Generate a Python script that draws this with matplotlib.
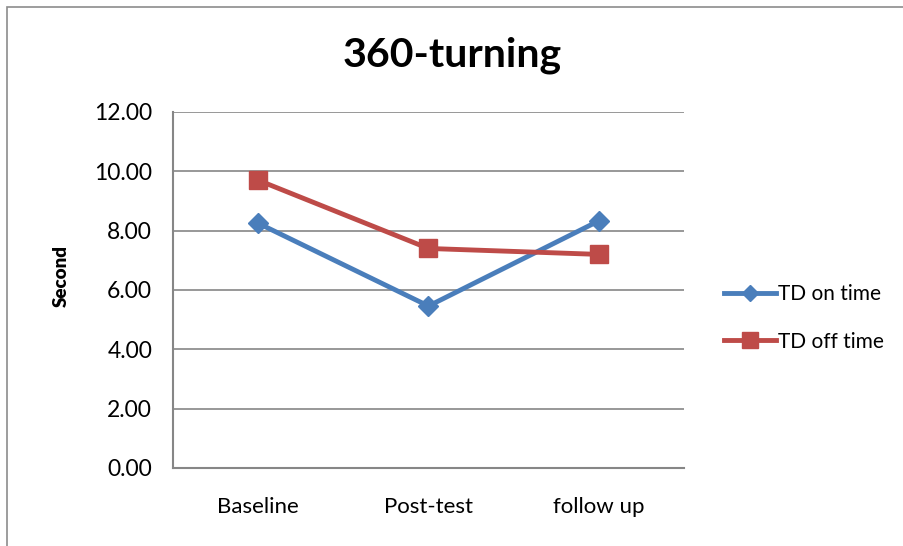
import matplotlib.pyplot as plt
from matplotlib.patches import Rectangle

plt.rcParams['font.family'] = ['Lato', 'DejaVu Sans']

# 数据
phases = ['Baseline', 'Post-test', 'follow up']
td_on = [8.25, 5.46, 8.33]
td_off = [9.70, 7.40, 7.20]
yticks = [0, 2, 4, 6, 8, 10, 12]

fig = plt.figure(figsize=(9.04, 5.46), dpi=100)
# 外框
fig.patches.append(Rectangle((7 / 904, -0.01), 1.0, 1 - 7 / 546 + 0.01,
                             transform=fig.transFigure, fill=False,
                             edgecolor='#8c8c8c', linewidth=1.2))

ax = fig.add_axes([173 / 904, 1 - 468 / 546, 511 / 904, 356 / 546])
x = range(len(phases))
ax.plot(x, td_on, color='#4a7ebb', linewidth=3.5, marker='D', markersize=10,
        label='TD on time')
ax.plot(x, td_off, color='#be4b48', linewidth=3.5, marker='s', markersize=13.5,
        label='TD off time')

ax.set_xlim(-0.5, 2.5)
ax.set_ylim(0, 12)
ax.set_yticks(yticks)
ax.set_yticklabels(['%.2f' % v for v in yticks], fontsize=16.5)
ax.set_xticks(list(x))
ax.set_xticklabels(phases, fontsize=16)
ax.tick_params(axis='y', length=0, pad=15)
ax.tick_params(axis='x', length=0, pad=21)

ax.grid(axis='y', color='#868686', linewidth=1.2)
ax.set_axisbelow(True)
for side in ['top', 'right']:
    ax.spines[side].set_visible(False)
for side in ['left', 'bottom']:
    ax.spines[side].set_color('#868686')
    ax.spines[side].set_linewidth(1.5)

ax.set_ylabel('Second', fontsize=13.5, fontweight='heavy')
ax.yaxis.set_label_coords(-0.202, 0.54)
fig.text(0.5, 1 - 55 / 546, '360-turning', fontsize=29.5, fontweight='bold',
         ha='center', va='center')

fig.legend(loc='center left', bbox_to_anchor=(705 / 904, 1 - 318 / 546),
           frameon=False, fontsize=15, handlelength=2.5, handletextpad=0.1,
           labelspacing=1.3, markerscale=0.85)

plt.savefig('out.png', dpi=100)
